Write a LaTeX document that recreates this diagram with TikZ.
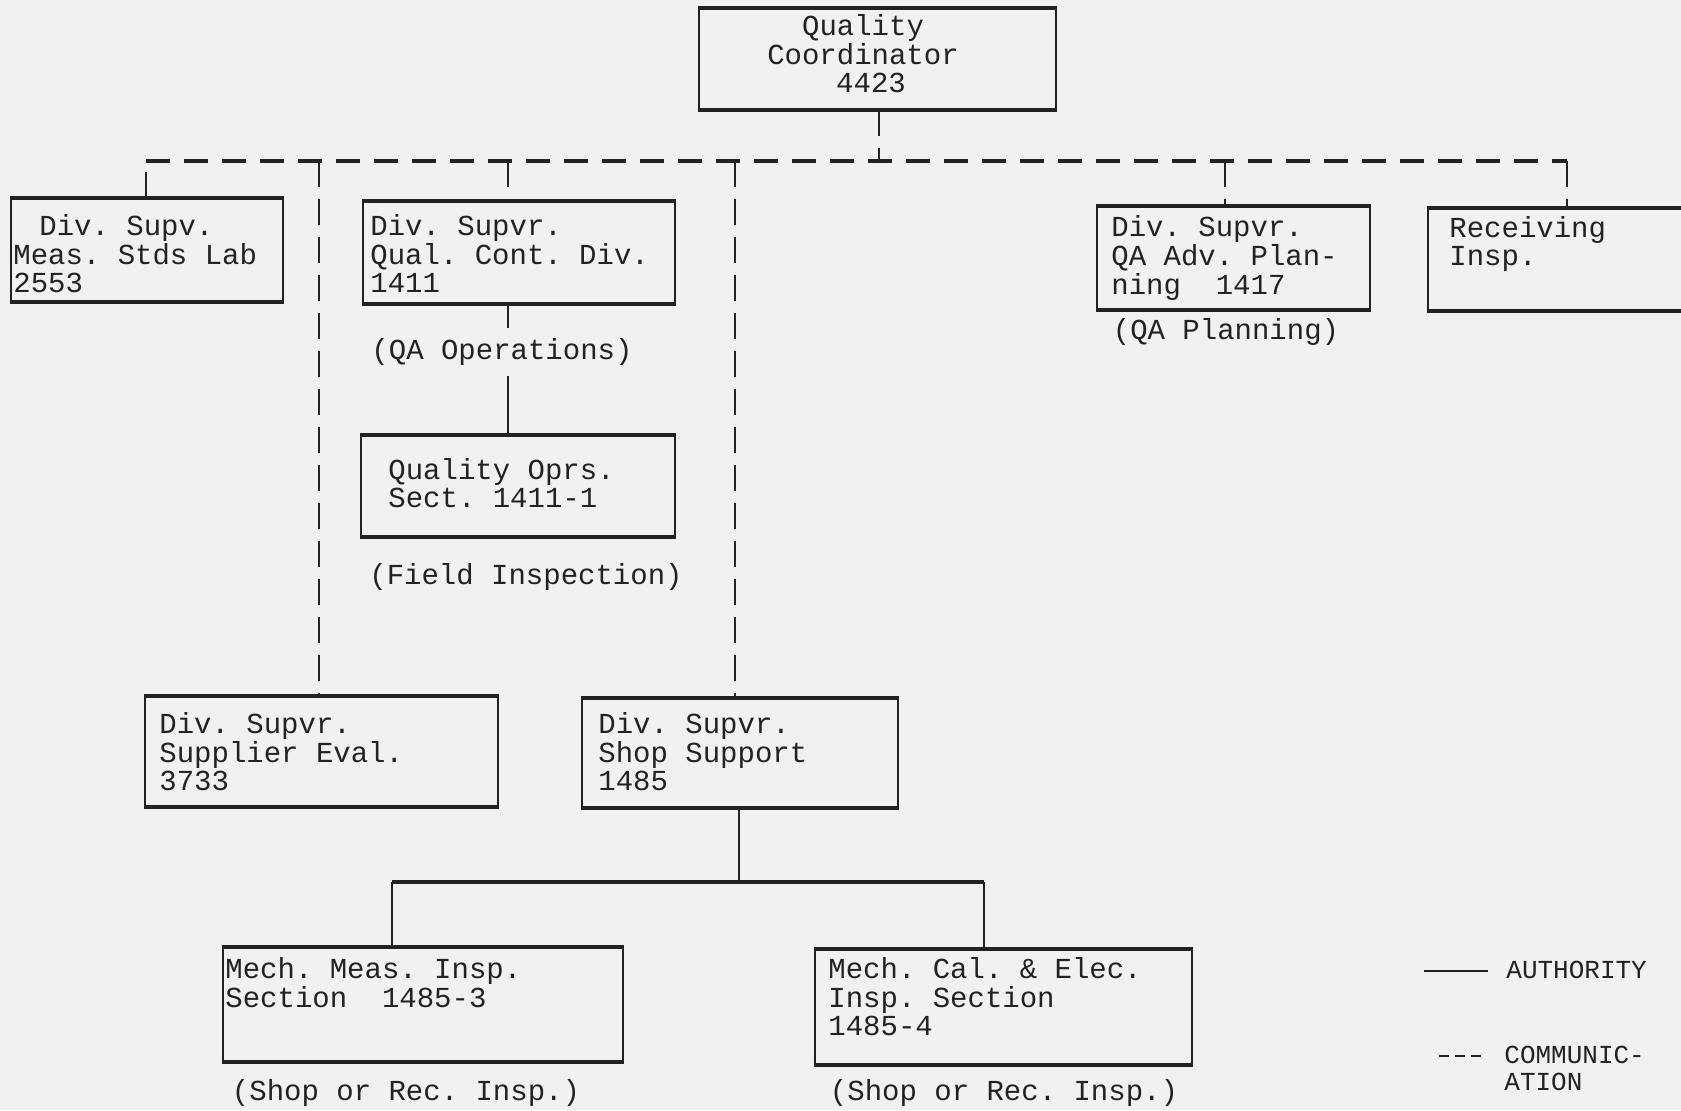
\documentclass[tikz,border=0pt]{standalone}
\usepackage{fontspec}
\setmainfont{Liberation Mono}
\usetikzlibrary{fit}
\definecolor{ink}{HTML}{222222}
\definecolor{paper}{HTML}{F1F1F1}
\newcommand\lblock[1]{\begin{tabular}[t]{@{}l@{}}#1\end{tabular}}
\newcommand\cblock[1]{\begin{tabular}[t]{@{}c@{}}#1\end{tabular}}
\frenchspacing
\begin{document}
\frenchspacing
\begin{tikzpicture}[x=0.5pt,y=-0.5pt,
  box/.style={draw=ink, line width=1.1pt, inner sep=0pt},
  edge/.style={draw=ink, line width=2pt},
  txt/.style={inner sep=0pt, text=ink, font=\fontsize{14.5}{14}\selectfont, anchor=base west},
  lbl/.style={inner sep=5pt, text=ink, font=\fontsize{14.5}{14}\selectfont},
  legtxt/.style={inner sep=0pt, text=ink, font=\fontsize{13}{13.5}\selectfont, anchor=base west},
  comm/.style={draw=ink, line width=1.2pt, dash pattern=on 13pt off 6pt},
  bus/.style={draw=ink, line width=2.2pt, dash pattern=on 12pt off 7pt},
  auth/.style={draw=ink, line width=1.1pt}]
\fill[paper] (0,0) rectangle (1681,1110);
\useasboundingbox (0,0) rectangle (1681,1110);

% boxes
\node[box, fit={(699,9) (1056,109)}] (qc) {};
\node[box, fit={(11,199) (283,301)}] (meas) {};
\node[box, fit={(363,202) (675,303)}] (qual) {};
\node[box, fit={(361,436) (675,536)}] (oprs) {};
\node[box, fit={(1097,207) (1370,309)}] (qaadv) {};
\node[box, fit={(1428,209) (1700,310)}] (recv) {};
\node[box, fit={(145,697) (498,806)}] (supp) {};
\node[box, fit={(582,699) (898,807)}] (shop) {};
\node[box, fit={(223,948) (623,1061)}] (mm) {};
\node[box, fit={(815,950) (1192,1064)}] (mc) {};
\foreach \b in {qc,meas,qual,oprs,qaadv,recv,supp,shop,mm,mc}
  \draw[edge] (\b.north west) -- (\b.north east) (\b.south west) -- (\b.south east);

% box texts
\node[txt, anchor=base] (qcT) at (863,35) {\cblock{Quality\\Coordinator\\\hspace*{8pt}4423}};
\node[txt] (measT) at (13,235) {\lblock{\hspace*{13pt}Div. Supv.\\Meas. Stds Lab\\2553}};
\node[txt] (qualT) at (370,235) {\lblock{Div. Supvr.\\Qual. Cont. Div.\\1411}};
\node[txt] (oprsT) at (388,479) {\lblock{Quality Oprs.\\Sect. 1411-1}};
\node[txt] (qaadvT) at (1111,236) {\lblock{Div. Supvr.\\QA Adv. Plan-\\ning\ \ 1417}};
\node[txt] (recvT) at (1449,237) {\lblock{Receiving\\Insp.}};
\node[txt] (suppT) at (159,733) {\lblock{Div. Supvr.\\Supplier Eval.\\3733}};
\node[txt] (shopT) at (598,733) {\lblock{Div. Supvr.\\Shop Support\\1485}};
\node[txt] (mmT) at (225,978) {\lblock{Mech. Meas. Insp.\\Section\ \ 1485-3}};
\node[txt] (mcT) at (828,978) {\lblock{Mech. Cal. \& Elec.\\Insp. Section\\1485-4}};

% labels
\node[lbl] (qaops) at (502,352) {(QA Operations)};
\node[lbl] (field) at (526,577) {(Field Inspection)};
\node[lbl] (qaplan) at (1226,332) {(QA Planning)};
\node[lbl] (shop1) at (406,1093) {(Shop or Rec. Insp.)};
\node[lbl] (shop2) at (1004,1093) {(Shop or Rec. Insp.)};

% communication bus
\coordinate (bus0) at (146,161);
\coordinate (bus1) at (319,161);
\coordinate (bus2) at (508,161);
\coordinate (bus3) at (735,161);
\coordinate (busQ) at (879,161);
\coordinate (bus4) at (1225,161);
\coordinate (bus5) at (1567,161);
\draw[comm] (qc.south -| busQ) -- (busQ);
\draw[comm] (meas.north -| bus0) -- (bus0);
\draw[bus] (bus0) -- (bus5);
\draw[comm] (bus5) -- (recv.north -| bus5);
\draw[comm] (bus1) -- (supp.north -| bus1);
\draw[comm] (bus2) -- (qual.north -| bus2);
\draw[comm] (bus3) -- (shop.north -| bus3);
\draw[comm] (bus4) -- (qaadv.north -| bus4);

% authority lines
\draw[auth] (qual.south -| bus2) -- (qaops.north -| bus2);
\draw[auth] (qaops.south -| bus2) -- (oprs.north -| bus2);
\coordinate (sj) at (739,882);
\coordinate (sl) at (392,882);
\coordinate (sr) at (984,882);
\draw[auth] (shop.south -| sj) -- (sj);
\draw[auth, line width=1.8pt] (sl) -- (sr);
\draw[auth] (sl) -- (mm.north -| sl);
\draw[auth] (sr) -- (mc.north -| sr);

% legend
\coordinate (la1) at (1424,971);
\coordinate (la2) at (1488,971);
\draw[auth, line width=0.8pt] (la1) -- (la2);
\node[legtxt] (lauth) at (1506,978) {AUTHORITY};
\coordinate (lc1) at (1439,1056);
\coordinate (lc2) at (1485,1056);
\draw[draw=ink, line width=0.8pt, dash pattern=on 5pt off 3pt] (lc1) -- (lc2);
\node[legtxt] (lcomm) at (1504,1063) {\lblock{COMMUNIC-\\ATION}};
\end{tikzpicture}
\end{document}
